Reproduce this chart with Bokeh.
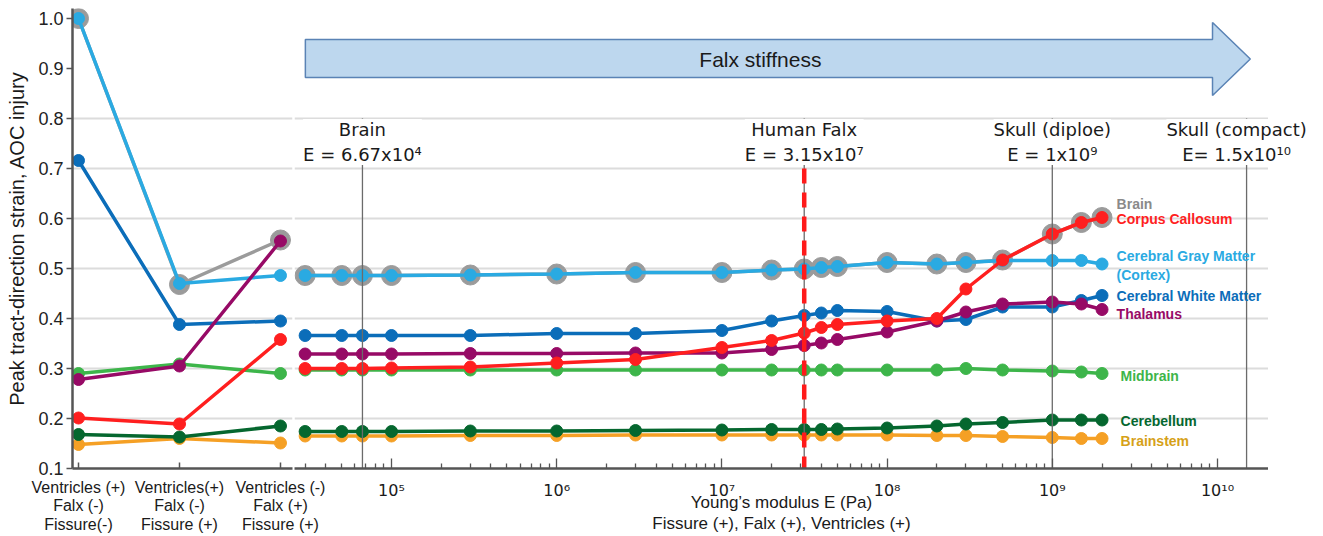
from bokeh.plotting import figure
from bokeh.models import Range1d, FixedTicker, NumeralTickFormatter, Label
from bokeh.layouts import row
from bokeh.embed import file_html
from bokeh.resources import INLINE

FONT = "Liberation Sans"
SUP_FONT = "DejaVu Sans"

# ---------------- data ----------------
conditions = ["Ventricles (+)\nFalx (-)\nFissure(-)",
              "Ventricles(+)\nFalx (-)\nFissure (+)",
              "Ventricles (-)\nFalx (+)\nFissure (+)"]

left_brain      = [1.000, 0.468, 0.557]
left_cc         = [0.201, 0.189, 0.358]
left_cortex     = [1.000, 0.470, 0.486]
left_white      = [0.716, 0.388, 0.395]
left_thalamus   = [0.278, 0.305, 0.555]
left_midbrain   = [0.290, 0.309, 0.290]
left_cerebellum = [0.168, 0.163, 0.185]
left_brainstem  = [0.148, 0.160, 0.151]

moduli = [3e4, 5e4, 6.67e4, 1e5, 3e5, 1e6, 3e6, 1e7, 2e7, 3.15e7, 4e7, 5e7,
          1e8, 2e8, 3e8, 5e8, 1e9, 1.5e9, 2e9]
right_brain      = [0.486, 0.486, 0.486, 0.486, 0.487, 0.489, 0.492, 0.492, 0.497, 0.499, 0.502, 0.504, 0.512, 0.509, 0.512, 0.517, 0.569, 0.592, 0.602]
right_cortex     = [0.486, 0.486, 0.486, 0.486, 0.487, 0.489, 0.492, 0.492, 0.497, 0.499, 0.502, 0.504, 0.512, 0.509, 0.512, 0.516, 0.516, 0.516, 0.509]
right_cc         = [0.300, 0.300, 0.300, 0.301, 0.303, 0.311, 0.318, 0.342, 0.356, 0.371, 0.382, 0.388, 0.395, 0.400, 0.459, 0.517, 0.569, 0.592, 0.602]
right_white      = [0.366, 0.366, 0.366, 0.366, 0.366, 0.370, 0.370, 0.376, 0.395, 0.406, 0.411, 0.416, 0.414, 0.395, 0.398, 0.423, 0.423, 0.436, 0.446]
right_thalamus   = [0.329, 0.329, 0.329, 0.329, 0.330, 0.330, 0.331, 0.331, 0.338, 0.346, 0.351, 0.358, 0.373, 0.395, 0.413, 0.429, 0.433, 0.429, 0.418]
right_midbrain   = [0.297, 0.297, 0.297, 0.297, 0.297, 0.297, 0.297, 0.297, 0.297, 0.297, 0.297, 0.297, 0.297, 0.297, 0.300, 0.297, 0.295, 0.293, 0.290]
right_cerebellum = [0.174, 0.174, 0.174, 0.174, 0.175, 0.175, 0.176, 0.177, 0.178, 0.178, 0.178, 0.179, 0.181, 0.185, 0.189, 0.192, 0.197, 0.197, 0.197]
right_brainstem  = [0.165, 0.165, 0.165, 0.165, 0.166, 0.166, 0.167, 0.167, 0.167, 0.167, 0.167, 0.167, 0.167, 0.166, 0.166, 0.164, 0.162, 0.160, 0.160]

y_ticks = [0.1, 0.2, 0.3, 0.4, 0.5, 0.6, 0.7, 0.8, 0.9, 1.0]
grid_ticks = [0.2, 0.3, 0.4, 0.5, 0.6, 0.7, 0.8]
x_major = [1e5, 1e6, 1e7, 1e8, 1e9, 1e10]
x_major_labels = ["10\u2075", "10\u2076", "10\u2077", "10\u2078", "10\u2079", "10\u00b9\u2070"]

ref_moduli = [6.67e4, 3.15e7, 1e9, 1.5e10]
ref_names = ["Brain", "Human Falx", "Skull (diploe)", "Skull (compact)"]
ref_values = ["E = 6.67x10\u2074", "E = 3.15x10\u2077", "E = 1x10\u2079", "E= 1.5x10\u00b9\u2070"]

# series in drawing order: name, left values, right values, colour
series = [
    ("Brain", left_brain, right_brain, "#9B9B9B"),
    ("Brainstem", left_brainstem, right_brainstem, "#F5A025"),
    ("Cerebellum", left_cerebellum, right_cerebellum, "#05672F"),
    ("Midbrain", left_midbrain, right_midbrain, "#3DB54A"),
    ("Cerebral Gray Matter", left_cortex, right_cortex, "#2AAAE2"),
    ("Cerebral White Matter", left_white, right_white, "#0B6DB9"),
    ("Thalamus", left_thalamus, right_thalamus, "#970A66"),
    ("Corpus Callosum", left_cc, right_cc, "#FF1F1F"),
]

label_texts = ["Brain", "Corpus Callosum", "Cerebral Gray Matter", "(Cortex)",
               "Cerebral White Matter", "Thalamus", "Midbrain", "Cerebellum", "Brainstem"]
label_colors = ["#8A8A8A", "#FF1F1F", "#2AAAE2", "#2AAAE2", "#0B6DB9", "#970A66",
                "#3DB54A", "#05672F", "#D6A118"]
label_x = [2.45e9] * 6 + [2.59e9] * 3
label_y = [0.629, 0.600, 0.525, 0.487, 0.446, 0.409, 0.286, 0.196, 0.156]

# ---------------- figures ----------------
yr = Range1d(0.1, 1.02)
AXIS_COLOR = "#555555"
GRID_COLOR = "#DCDCDC"
TOP = 8
FH = 460

left = figure(frame_width=220, frame_height=FH, x_range=Range1d(-0.0594, 2.119), y_range=yr,
              output_backend="svg", toolbar_location=None,
              min_border_left=72, min_border_right=60, min_border_top=TOP, min_border_bottom=2)
left.outline_line_color = None
left.border_fill_color = None
left.xgrid.visible = False
left.ygrid.ticker = FixedTicker(ticks=grid_ticks)
left.ygrid.grid_line_color = GRID_COLOR
left.ygrid.grid_line_width = 2

xi = list(range(len(conditions)))
for name, lv, rv, col in series:
    left.line(xi, lv, line_color=col, line_width=3.5)
    left.scatter(xi, lv, size=20 if name == "Brain" else 12, fill_color=col, line_color=col)

ya = left.yaxis[0]
ya.ticker = FixedTicker(ticks=y_ticks)
ya.formatter = NumeralTickFormatter(format="0.0")
ya.axis_label = "Peak tract-direction strain, AOC injury"
ya.axis_label_text_font = FONT
ya.axis_label_text_font_size = "20px"
ya.axis_label_text_font_style = "normal"
ya.axis_label_text_color = "#1A1A1A"
ya.axis_label_standoff = 7
ya.major_label_text_font = FONT
ya.major_label_text_font_size = "18px"
ya.major_label_text_color = "#222222"
ya.major_label_standoff = 3
ya.major_tick_out = 6
ya.major_tick_in = 0
ya.minor_tick_out = 0
ya.minor_tick_in = 0
ya.axis_line_color = AXIS_COLOR
ya.axis_line_width = 2.5
ya.major_tick_line_color = AXIS_COLOR
ya.major_tick_line_width = 1.5

xa = left.xaxis[0]
xa.ticker = FixedTicker(ticks=xi)
xa.major_label_overrides = {i: c for i, c in zip(xi, conditions)}
xa.major_label_text_font = FONT
xa.major_label_text_font_size = "16px"
xa.major_label_text_line_height = 1.1
xa.major_label_text_color = "#1A1A1A"
xa.major_label_standoff = 10
xa.major_tick_in = 6
xa.major_tick_out = 0
xa.minor_tick_in = 0
xa.minor_tick_out = 0
xa.axis_line_color = AXIS_COLOR
xa.axis_line_width = 2.5
xa.major_tick_line_color = AXIS_COLOR
xa.major_tick_line_width = 1.5

right = figure(x_axis_type="log", y_axis_location=None,
               frame_width=974, frame_height=FH,
               x_range=Range1d(25870, 2.036e10), y_range=yr,
               output_backend="svg", toolbar_location=None,
               min_border_left=2, min_border_right=0, min_border_top=TOP, min_border_bottom=2,
               margin=(0, 0, 0, -60))
right.outline_line_color = None
right.border_fill_color = None
right.background_fill_color = None
right.xgrid.visible = False
right.ygrid.ticker = FixedTicker(ticks=grid_ticks)
right.ygrid.grid_line_color = GRID_COLOR
right.ygrid.grid_line_width = 2

# stiffness arrow (decoration)
ax0, ax1, ax2 = 3.01e4, 9.33e9, 1.58e10
right.patch([ax0, ax1, ax1, ax2, ax1, ax1, ax0],
            [0.958, 0.958, 0.992, 0.919, 0.846, 0.882, 0.882],
            fill_color="#BDD7EE", line_color="#5A83B5", line_width=1.5)
right.add_layout(Label(x=1.71e7, y=0.919, text="Falx stiffness", text_align="center",
                       text_baseline="middle", text_font=FONT, text_font_size="21px",
                       text_color="#1A1A1A"))

for name, lv, rv, col in series:
    right.line(moduli, rv, line_color=col, line_width=3.5)
    right.scatter(moduli, rv, size=20 if name == "Brain" else 12, fill_color=col, line_color=col)

# reference stiffness lines
n_ref = len(ref_moduli)
right.segment(x0=ref_moduli, y0=[0.1] * n_ref, x1=ref_moduli, y1=[0.8] * n_ref,
              line_color="#6B6B6B", line_width=1.3)
falx = ref_moduli[1]
right.segment(x0=[falx], y0=[0.7], x1=[falx], y1=[0.1],
              line_color="#FF1A1A", line_width=4.5, line_dash="15 9")

for e, nm, val in zip(ref_moduli[:-1], ref_names[:-1], ref_values[:-1]):
    right.add_layout(Label(x=e, y=0.753, text=nm + "\n" + val, text_align="center",
                           text_baseline="middle", text_font=SUP_FONT, text_font_size="18px",
                           text_color="#1A1A1A", background_fill_color="white"))

for t, c, lx, ly in zip(label_texts, label_colors, label_x, label_y):
    right.add_layout(Label(x=lx, y=ly, text=t, text_align="left", text_baseline="middle",
                           text_font=FONT, text_font_size="14px", text_font_style="bold",
                           text_color=c))

rx = right.xaxis[0]
minor = [m * 10 ** d for d in range(4, 10) for m in range(2, 10) if 25870 <= m * 10 ** d <= 2.036e10]
rx.ticker = FixedTicker(ticks=x_major, minor_ticks=minor)
rx.major_label_overrides = {t: l for t, l in zip(x_major, x_major_labels)}
rx.major_label_text_font = SUP_FONT
rx.major_label_text_font_size = "16px"
rx.major_label_text_color = "#1A1A1A"
rx.major_label_standoff = 12
rx.major_tick_in = 10
rx.major_tick_out = 0
rx.minor_tick_in = 5
rx.minor_tick_out = 0
rx.axis_line_color = AXIS_COLOR
rx.axis_line_width = 2.5
rx.major_tick_line_color = AXIS_COLOR
rx.minor_tick_line_color = AXIS_COLOR
rx.major_tick_line_width = 1.3
rx.minor_tick_line_width = 1.3
rx.axis_label = "Young\u2019s modulus E (Pa)\nFissure (+), Falx (+), Ventricles (+)"
rx.axis_label_text_font = FONT
rx.axis_label_text_font_size = "17px"
rx.axis_label_text_line_height = 1.15
rx.axis_label_text_font_style = "normal"
rx.axis_label_text_color = "#1A1A1A"
rx.axis_label_standoff = -10

# small transparent overlay on the right edge, for the last stiffness label
corner = figure(x_axis_type="log", x_axis_location=None, y_axis_location=None,
                frame_width=155, frame_height=FH,
                x_range=Range1d(10 ** 9.6429, 10 ** 10.5812), y_range=yr,
                output_backend="svg", toolbar_location=None,
                min_border_left=0, min_border_right=0, min_border_top=TOP, min_border_bottom=0,
                margin=(0, 0, 0, -110))
corner.outline_line_color = None
corner.border_fill_color = None
corner.background_fill_color = None
corner.grid.visible = False
corner.add_layout(Label(x=ref_moduli[-1], y=0.753, text=ref_names[-1] + "\n" + ref_values[-1],
                        text_align="center", text_baseline="middle", text_font=SUP_FONT,
                        text_font_size="18px", text_color="#1A1A1A",
                        background_fill_color="white", x_offset=-10))

layout = row(left, right, corner)
open("out.html", "w").write(file_html(layout, INLINE))
